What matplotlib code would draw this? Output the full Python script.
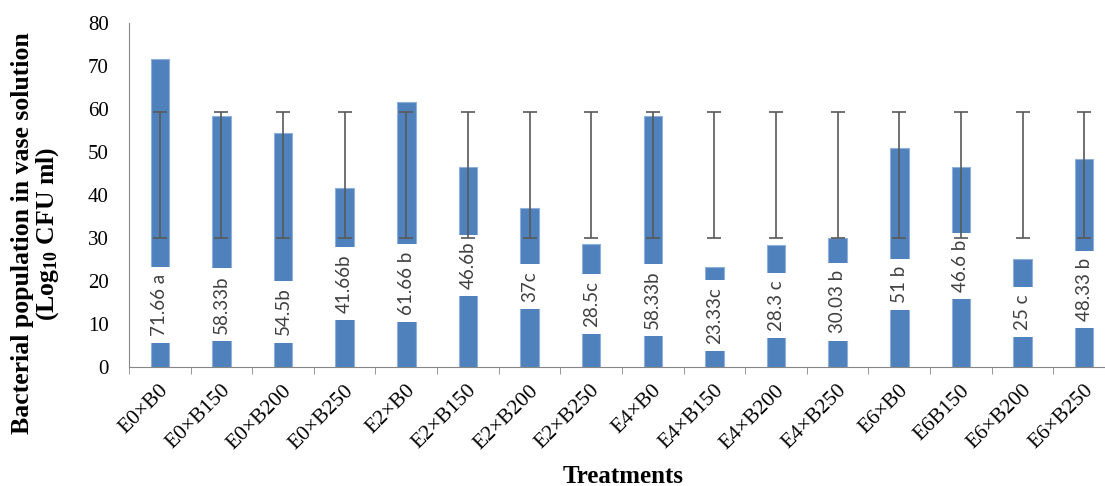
import matplotlib
matplotlib.use('Agg')
import matplotlib.pyplot as plt
import matplotlib.transforms as mtransforms
import numpy as np

# data
treatments = ['E0×B0', 'E0×B150', 'E0×B200', 'E0×B250', 'E2×B0', 'E2×B150', 'E2×B200', 'E2×B250',
              'E4×B0', 'E4×B150', 'E4×B200', 'E4×B250', 'E6×B0', 'E6B150', 'E6×B200', 'E6×B250']
bacteria = [71.66, 58.33, 54.5, 41.66, 61.66, 46.6, 37, 28.5,
            58.33, 23.33, 28.3, 30.03, 51, 46.6, 25, 48.33]
bar_labels = ['71.66 a', '58.33b', '54.5b', '41.66b', '61.66 b', '46.6b', '37c', '28.5c',
              '58.33b', '23.33c', '28.3 c', '30.03 b', '51 b', '46.6 b', '25 c', '48.33 b']
err_low = [30] * 16
err_high = [59.3] * 16

# where the data labels sit on each bar
label_y = [14.4, 14.55, 12.9, 19.35, 19.5, 23.6, 18.7, 14.6,
           15.6, 11.95, 14.25, 15.15, 19.15, 23.45, 12.75, 17.95]

plt.rcParams['mathtext.fontset'] = 'custom'
plt.rcParams['mathtext.rm'] = 'Liberation Serif:bold'
plt.rcParams['mathtext.it'] = 'Liberation Serif:bold'
plt.rcParams['mathtext.bf'] = 'Liberation Serif:bold'

fig = plt.figure(figsize=(11.05, 4.86), dpi=100)
ax = fig.add_axes([0.1167, 0.2449, 0.8923, 0.7078])

x = np.arange(len(treatments))
ax.bar(x, bacteria, width=0.3, color='#4F81BD', edgecolor='#8EB0DA', linewidth=0.8, zorder=2)

# error bars (same range on all bars)
mid = (np.array(err_low) + np.array(err_high)) / 2
half = (np.array(err_high) - np.array(err_low)) / 2
ax.errorbar(x, mid, yerr=half, fmt='none', ecolor='#595959', elinewidth=1.2,
            capsize=4.8, capthick=1.2, zorder=4)

# value labels with white box cut through the bar
for i in range(len(x)):
    ax.text(x[i], label_y[i], bar_labels[i], rotation=90, ha='center', va='center',
            fontsize=13.5, family='Lato', color='#404040', zorder=3,
            bbox=dict(boxstyle='square,pad=0.38', facecolor='white', edgecolor='none'))

ax.set_xlim(-0.5, len(x) - 0.5)
ax.set_ylim(0, 80)
ax.set_yticks(np.arange(0, 81, 10))
ax.tick_params(axis='y', length=0, pad=14.5, labelsize=15)
for t in ax.get_yticklabels():
    t.set_family('Liberation Serif')

ax.set_xticks(x)
ax.set_xticklabels(treatments, rotation=45, ha='right', va='center', rotation_mode='anchor',
                   family='Liberation Serif', fontsize=15.5)
ax.tick_params(axis='x', which='major', length=0, pad=15)
offset = mtransforms.ScaledTranslation(6 / 100, 0, fig.dpi_scale_trans)
for t in ax.get_xticklabels():
    t.set_transform(t.get_transform() + offset)
ax.set_xticks(np.arange(-0.5, len(x), 1), minor=True)
ax.tick_params(axis='x', which='minor', length=5, color='#868686', direction='out')

for s in ['top', 'right']:
    ax.spines[s].set_visible(False)
ax.spines['left'].set_color('#868686')
ax.spines['bottom'].set_color('#868686')

ax.text(-0.094, 0.388, 'Bacterial population in vase solution\n(Log$_{10}$ CFU ml)',
        transform=ax.transAxes, rotation=90, ha='center', va='center', multialignment='center',
        family='Liberation Serif', fontweight='bold', fontsize=18.5, linespacing=1.0)
fig.text(0.564, 0.02, 'Treatments', ha='center', va='center', family='Liberation Serif',
         fontweight='bold', fontsize=18)

fig.savefig('out.png', dpi=100)
